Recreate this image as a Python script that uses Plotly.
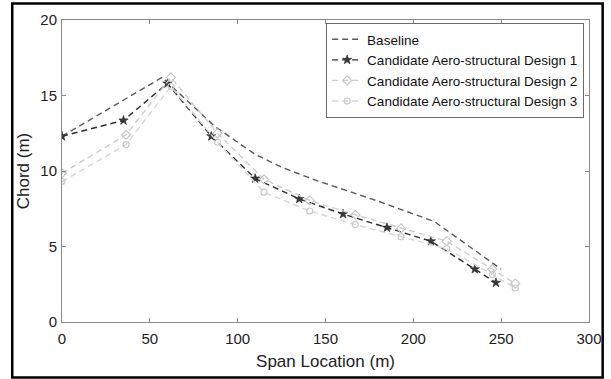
import plotly.graph_objects as go

# ---- data ----
baseline_x = [0, 57, 87, 110, 125, 143, 180, 212, 250]
baseline_y = [12.3, 16.2, 12.95, 11.1, 10.25, 9.45, 8.0, 6.65, 3.5]

d1_x = [0, 35, 60, 85, 110, 135, 160, 185, 210, 235, 247]
d1_y = [12.3, 13.35, 15.8, 12.3, 9.5, 8.15, 7.15, 6.25, 5.35, 3.5, 2.6]

d23_x = [0, 36.5, 62, 88.5, 115, 141, 167, 193, 219, 245, 258]
d2_y = [9.85, 12.4, 16.2, 12.5, 9.45, 8.05, 7.1, 6.2, 5.35, 3.5, 2.55]
d3_y = [9.3, 11.75, 15.6, 11.9, 8.6, 7.35, 6.45, 5.65, 4.85, 3.15, 2.25]

x_ticks = [0, 50, 100, 150, 200, 250, 300]
y_ticks = [0, 5, 10, 15, 20]

FONT = "Arial, Liberation Sans, sans-serif"
dash = "6px,4px"

fig = go.Figure()
fig.add_trace(go.Scatter(x=baseline_x, y=baseline_y, mode="lines", name="Baseline",
                         line=dict(color="#5a5a5a", width=1.4, dash=dash)))
fig.add_trace(go.Scatter(x=d1_x, y=d1_y, mode="lines+markers",
                         name="Candidate Aero-structural Design 1",
                         line=dict(color="#2e2e2e", width=1.4, dash=dash),
                         marker=dict(symbol="star", size=7, color="#3a3a3a",
                                     line=dict(color="#222", width=0.6))))
fig.add_trace(go.Scatter(x=d23_x, y=d2_y, mode="lines+markers",
                         name="Candidate Aero-structural Design 2",
                         line=dict(color="#cdcdcd", width=1.4, dash=dash),
                         marker=dict(symbol="diamond-open", size=7, color="#c4c4c4",
                                     line=dict(width=1.1))))
fig.add_trace(go.Scatter(x=d23_x, y=d3_y, mode="lines+markers",
                         name="Candidate Aero-structural Design 3",
                         line=dict(color="#d6d6d6", width=1.4, dash=dash),
                         marker=dict(symbol="circle-open", size=6, color="#c8c8c8",
                                     line=dict(width=1.1))))

L, R, T, B = 62, 9, 20, 57
W, H = 611, 379
pw, ph = W - L - R, H - T - B

def px2paper(x, y):
    return (x - L) / pw, (H - B - y) / ph

x0, y0 = px2paper(11, 377.5)
x1, y1 = px2paper(616, 3.5)
fig.add_shape(type="rect", xref="paper", yref="paper", x0=x0, y0=y0, x1=x1, y1=y1,
              line=dict(color="black", width=2.5), layer="above")

axis_common = dict(showline=True, linecolor="#8a8a8a", linewidth=1, mirror="ticks",
                   ticks="inside", ticklen=4, tickcolor="#8a8a8a", showgrid=False,
                   zeroline=False, tickfont=dict(family=FONT, size=15, color="#222"),
                   ticklabeloverflow="allow")

fig.update_layout(
    width=W, height=H, margin=dict(l=L, r=R, t=T, b=B),
    paper_bgcolor="white", plot_bgcolor="white",
    font=dict(family=FONT, color="#222"),
    xaxis=dict(range=[0, 300], tickvals=x_ticks, ticktext=[str(v) for v in x_ticks],
               ticklabelstandoff=3,
               title=dict(text="Span Location (m)", font=dict(family=FONT, size=17), standoff=9),
               **axis_common),
    yaxis=dict(range=[0, 20], tickvals=y_ticks, ticktext=[str(v) for v in y_ticks],
               ticklabelstandoff=1,
               title=dict(text="Chord (m)", font=dict(family=FONT, size=17), standoff=6),
               **axis_common),
    legend=dict(x=(597 - L) / pw, y=(H - B - 23) / ph, xanchor="right", yanchor="top",
                bgcolor="white", bordercolor="#6a6a6a", borderwidth=1,
                font=dict(family=FONT, size=13.5, color="#111"),
                itemwidth=30, tracegroupgap=0),
    showlegend=True,
)

fig.write_html("out.html")
